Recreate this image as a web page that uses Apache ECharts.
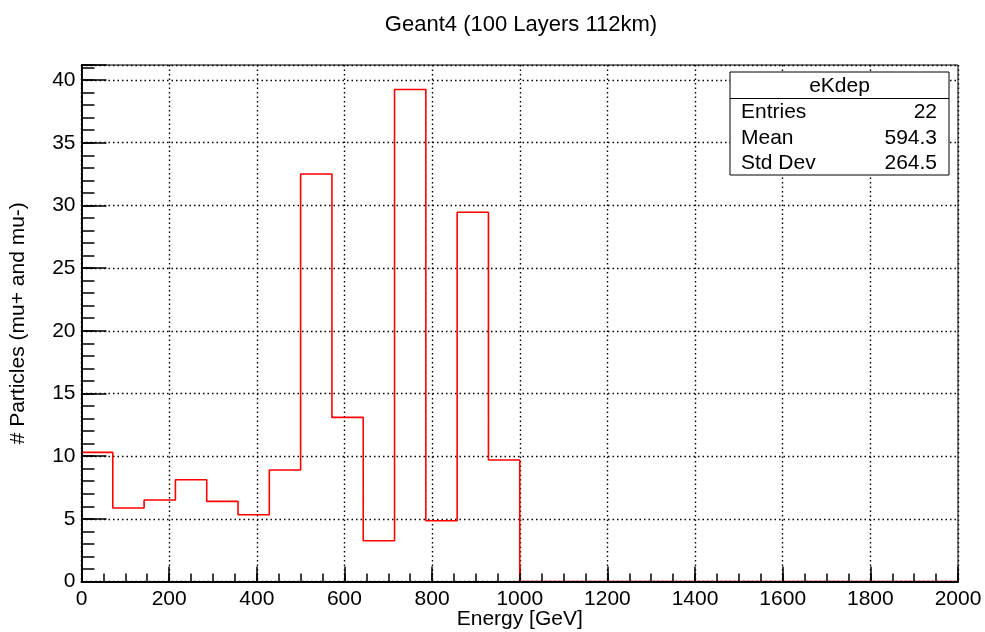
<!DOCTYPE html>
<html>
<head>
<meta charset="utf-8">
<script src="https://cdn.jsdelivr.net/npm/echarts@6/dist/echarts.min.js"></script>
<style>
  html, body { margin: 0; padding: 0; background: #fff; }
  #chart { width: 985px; height: 632px; }
</style>
</head>
<body>
<div id="chart"></div>
<script>
// Histogram "eKdep": 28 equal bins from 0 to 2000 GeV
const histName = 'eKdep';
const xRange = [0, 2000];
const binCount = 28;
const binContents = [
  10.3, 5.86, 6.5, 8.12, 6.39, 5.32, 8.89,
  32.51, 13.09, 3.25, 39.24, 4.84, 29.45, 9.69,
  0, 0, 0, 0, 0, 0, 0,
  0, 0, 0, 0, 0, 0, 0
];
const statLabels = ['Entries', 'Mean', 'Std Dev'];
const statValues = ['22', '594.3', '264.5'];
const yMax = 41.2;

const FONT = '"Liberation Sans", Arial, Helvetica, sans-serif';

// Outline of the histogram as a stepped polyline over the bin edges
const binWidth = (xRange[1] - xRange[0]) / binCount;
const outline = [];
binContents.forEach((v, i) => {
  const lo = xRange[0] + i * binWidth;
  const hi = lo + binWidth;
  outline.push([lo, v], [hi, v]);
});

const chart = echarts.init(document.getElementById('chart'), null, { renderer: 'canvas' });

const dotted = { color: '#000', width: 1.4, type: [1.5, 3] };
const axisText = { color: '#000', fontFamily: FONT, fontSize: 21 };

// Stat box geometry
const box = { x: 730, y: 72, w: 219, h: 103, head: 26.5 };
const rowH = (box.h - box.head) / statLabels.length;
const statGraphics = [
  { type: 'rect', z: 100, shape: { x: box.x, y: box.y, width: box.w, height: box.h },
    style: { fill: '#fff', stroke: '#000', lineWidth: 1 } },
  { type: 'line', z: 101, shape: { x1: box.x, y1: box.y + box.head, x2: box.x + box.w, y2: box.y + box.head },
    style: { stroke: '#000', lineWidth: 1 } },
  { type: 'text', z: 101, x: box.x + box.w / 2, y: box.y + box.head / 2 + 1,
    style: { text: histName, font: '21px ' + FONT, fill: '#000', align: 'center', verticalAlign: 'middle' } }
];
statLabels.forEach((lab, i) => {
  const cy = box.y + box.head + rowH * (i + 0.5) + 1;
  statGraphics.push(
    { type: 'text', z: 101, x: box.x + 11, y: cy,
      style: { text: lab, font: '21px ' + FONT, fill: '#000', align: 'left', verticalAlign: 'middle' } },
    { type: 'text', z: 101, x: box.x + box.w - 12, y: cy,
      style: { text: statValues[i], font: '21px ' + FONT, fill: '#000', align: 'right', verticalAlign: 'middle' } }
  );
});

chart.setOption({
  backgroundColor: '#fff',
  animation: false,
  title: {
    text: 'Geant4 (100 Layers 112km)',
    left: 516, top: 9, textAlign: 'center',
    textStyle: { fontFamily: FONT, fontSize: 22, fontWeight: 'normal', color: '#000' }
  },
  grid: {
    left: 81.5, right: 27, top: 65, bottom: 50.5,
    outerBoundsMode: 'none', containLabel: false,
    show: true, borderColor: '#000', borderWidth: 1, backgroundColor: 'transparent'
  },
  xAxis: [
    {
      type: 'value', min: xRange[0], max: xRange[1], interval: 200,
      name: 'Energy [GeV]', nameLocation: 'middle', nameGap: 27, nameMoveOverlap: false,
      nameTextStyle: Object.assign({ verticalAlign: 'top' }, axisText),
      axisLine: { show: true, lineStyle: { color: '#000', width: 1.5 } },
      axisTick: { show: true, inside: true, length: 15, lineStyle: { color: '#000', width: 1.5 } },
      axisLabel: Object.assign({
        margin: 7, showMinLabel: true, showMaxLabel: true,
        formatter: v => String(v)
      }, axisText),
      splitLine: { show: true, lineStyle: dotted }
    },
    {
      type: 'value', min: xRange[0], max: xRange[1], interval: 50, position: 'bottom', z: 6,
      axisLine: { show: true, lineStyle: { color: '#000', width: 1.8 } },
      axisTick: { show: true, inside: true, length: 8, lineStyle: { color: '#000', width: 1.5 } },
      axisLabel: { show: false }, splitLine: { show: false }
    }
  ],
  yAxis: [
    {
      type: 'value', min: 0, max: yMax, interval: 5,
      name: '# Particles (mu+ and mu-)', nameLocation: 'middle', nameGap: 53, nameMoveOverlap: false,
      nameTextStyle: axisText,
      axisLine: { show: true, lineStyle: { color: '#000', width: 1.5 } },
      axisTick: { show: true, inside: true, length: 25, lineStyle: { color: '#000', width: 1.5 } },
      axisLabel: Object.assign({
        margin: 6,
        formatter: v => (Math.abs(v % 5) < 1e-9 ? String(v) : '')
      }, axisText),
      splitLine: { show: true, lineStyle: dotted }
    },
    {
      type: 'value', min: 0, max: yMax, interval: 1, position: 'left', z: 6,
      axisLine: { show: true, lineStyle: { color: '#000', width: 1.5 } },
      axisTick: { show: true, inside: true, length: 13, lineStyle: { color: '#000', width: 1.5 } },
      axisLabel: { show: false }, splitLine: { show: false }
    }
  ],
  series: [{
    name: histName,
    type: 'line',
    z: 1,
    data: outline,
    xAxisIndex: 0, yAxisIndex: 0,
    symbol: 'none', showSymbol: false,
    lineStyle: { color: '#ff0000', width: 1.6 },
    silent: true, clip: true
  }],
  graphic: statGraphics
});
</script>
</body>
</html>
